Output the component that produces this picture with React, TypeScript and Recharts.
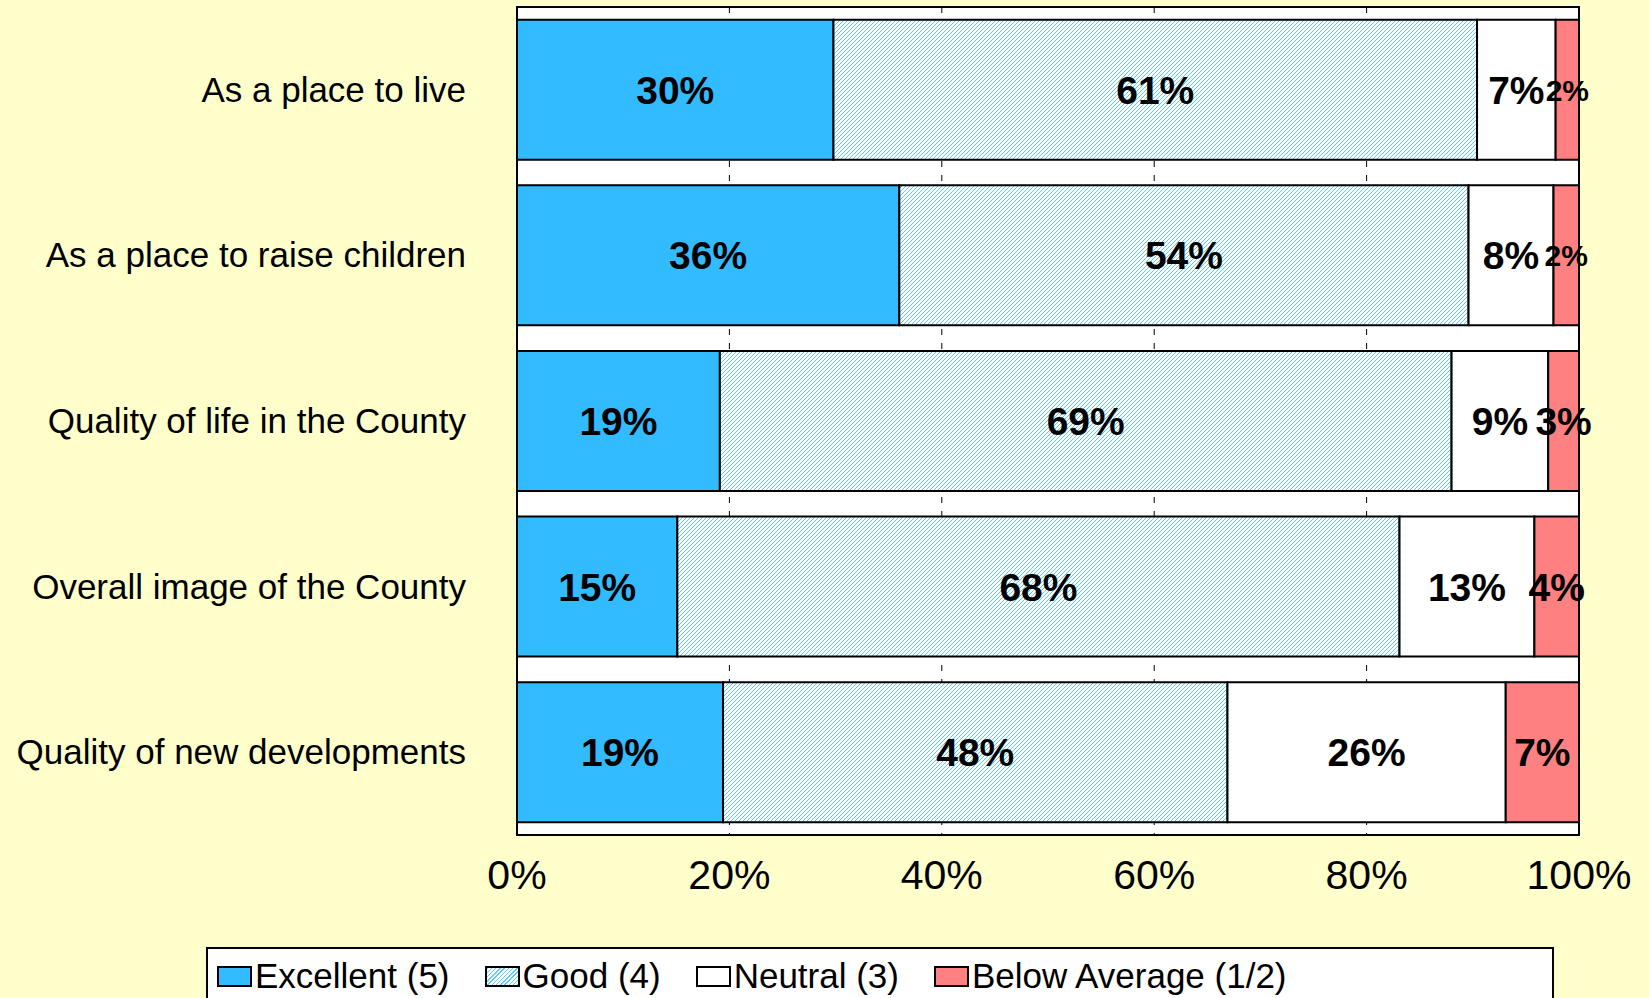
import React from 'react';
import { BarChart, Bar, XAxis, YAxis, CartesianGrid, Legend, LabelList, ReferenceArea } from 'recharts';

const categories = [
  'As a place to live',
  'As a place to raise children',
  'Quality of life in the County',
  'Overall image of the County',
  'Quality of new developments',
];
const excellent = [29.8, 36.0, 19.1, 15.1, 19.4];
const good = [60.6, 53.6, 68.9, 68.0, 47.5];
const neutral = [7.4, 8.0, 9.1, 12.7, 26.2];
const belowAverage = [2.2, 2.4, 2.9, 4.2, 6.9];
const xTicks = [0, 20, 40, 60, 80, 100];

const seriesNames = ['Excellent (5)', 'Good (4)', 'Neutral (3)', 'Below Average (1/2)'];

const data = categories.map((name, i) => ({
  name,
  excellent: excellent[i],
  good: good[i],
  neutral: neutral[i],
  below: belowAverage[i],
}));

const FONT = '"Liberation Sans", Arial, sans-serif';
const BLUE = '#33BBFF';
const PINK = '#FF8080';

function SegmentLabel(props: any) {
  const { x, y, width, height, value } = props;
  const v = Math.round(Number(value));
  const size = v <= 2 ? 30 : 39;
  return (
    <text
      x={x + width / 2}
      y={y + height / 2}
      dy={size * 0.36}
      textAnchor="middle"
      fontFamily={FONT}
      fontWeight="bold"
      fontSize={size}
      fill="#000"
    >
      {v}%
    </text>
  );
}

function CategoryTick(props: any) {
  const { x, y, payload } = props;
  return (
    <text x={x - 43} y={y} dy={12} textAnchor="end" fontFamily={FONT} fontSize={35} fill="#000">
      {payload.value}
    </text>
  );
}

function PercentTick(props: any) {
  const { x, y, payload } = props;
  return (
    <text x={x} y={y} dy={46} textAnchor="middle" fontFamily={FONT} fontSize={41} fill="#000">
      {payload.value}%
    </text>
  );
}

const swatchStyles: React.CSSProperties[] = [
  { background: BLUE },
  { background: 'repeating-linear-gradient(135deg, #5CCBFF 0px, #5CCBFF 1px, #ffffff 1px, #ffffff 3px)' },
  { background: '#ffffff' },
  { background: PINK },
];

function renderLegend() {
  return (
    <div
      style={{
        boxSizing: 'border-box',
        width: 1348,
        height: 70,
        border: '2px solid #000',
        background: '#fff',
        display: 'flex',
        alignItems: 'flex-start',
        paddingLeft: 9,
        paddingTop: 7,
        fontFamily: FONT,
        fontSize: 35,
        color: '#000',
      }}
    >
      {seriesNames.map((n, i) => (
        <div key={n} style={{ display: 'flex', alignItems: 'center', height: 40, marginRight: 35 }}>
          <span
            style={{
              display: 'inline-block',
              boxSizing: 'border-box',
              width: 35,
              height: 21,
              border: '2px solid #000',
              marginRight: 3,
              ...swatchStyles[i],
            }}
          />
          <span style={{ lineHeight: '40px' }}>{n}</span>
        </div>
      ))}
    </div>
  );
}

export default function App() {
  return (
    <div
      style={{
        position: 'absolute',
        left: 0,
        top: 0,
        width: 1649,
        height: 998,
        overflow: 'hidden',
        background: '#FFFFCC',
      }}
    >
      <BarChart
        width={1649}
        height={998}
        data={data}
        layout="vertical"
        barCategoryGap="7.7%"
        margin={{ top: 7, right: 70, left: 0, bottom: 103 }}
      >
        <defs>
          <pattern id="goodHatch" patternUnits="userSpaceOnUse" width="4" height="4">
            <rect width="4" height="4" fill="#ffffff" />
            <path d="M-1,1 L1,-1 M0,4 L4,0 M3,5 L5,3" stroke="#5CCBFF" strokeWidth="1" />
          </pattern>
        </defs>
        <CartesianGrid
          horizontal={false}
          vertical
          fill="#ffffff"
          stroke="#000"
          strokeWidth={1}
          strokeDasharray="6 8"
        />
        <XAxis
          type="number"
          domain={[0, 100]}
          ticks={xTicks}
          axisLine={false}
          tickLine={false}
          height={60}
          tick={<PercentTick />}
          interval={0}
        />
        <YAxis
          type="category"
          dataKey="name"
          width={517}
          axisLine={false}
          tickLine={false}
          tick={<CategoryTick />}
          interval={0}
        />
        <Legend
          layout="horizontal"
          verticalAlign="middle"
          align="center"
          wrapperStyle={{ position: 'absolute', left: 206, top: 947, width: 1348, height: 70 }}
          content={renderLegend}
        />
        <Bar dataKey="excellent" stackId="s" fill={BLUE} stroke="#000" strokeWidth={2} isAnimationActive={false}>
          <LabelList dataKey="excellent" content={<SegmentLabel />} />
        </Bar>
        <Bar dataKey="good" stackId="s" fill="url(#goodHatch)" stroke="#000" strokeWidth={2} isAnimationActive={false}>
          <LabelList dataKey="good" content={<SegmentLabel />} />
        </Bar>
        <Bar dataKey="neutral" stackId="s" fill="#ffffff" stroke="#000" strokeWidth={2} isAnimationActive={false}>
          <LabelList dataKey="neutral" content={<SegmentLabel />} />
        </Bar>
        <Bar dataKey="below" stackId="s" fill={PINK} stroke="#000" strokeWidth={2} isAnimationActive={false}>
          <LabelList dataKey="below" content={<SegmentLabel />} />
        </Bar>
        <ReferenceArea x1={0} x2={100} fill="none" stroke="#000" strokeWidth={2} ifOverflow="visible" />
      </BarChart>
    </div>
  );
}
